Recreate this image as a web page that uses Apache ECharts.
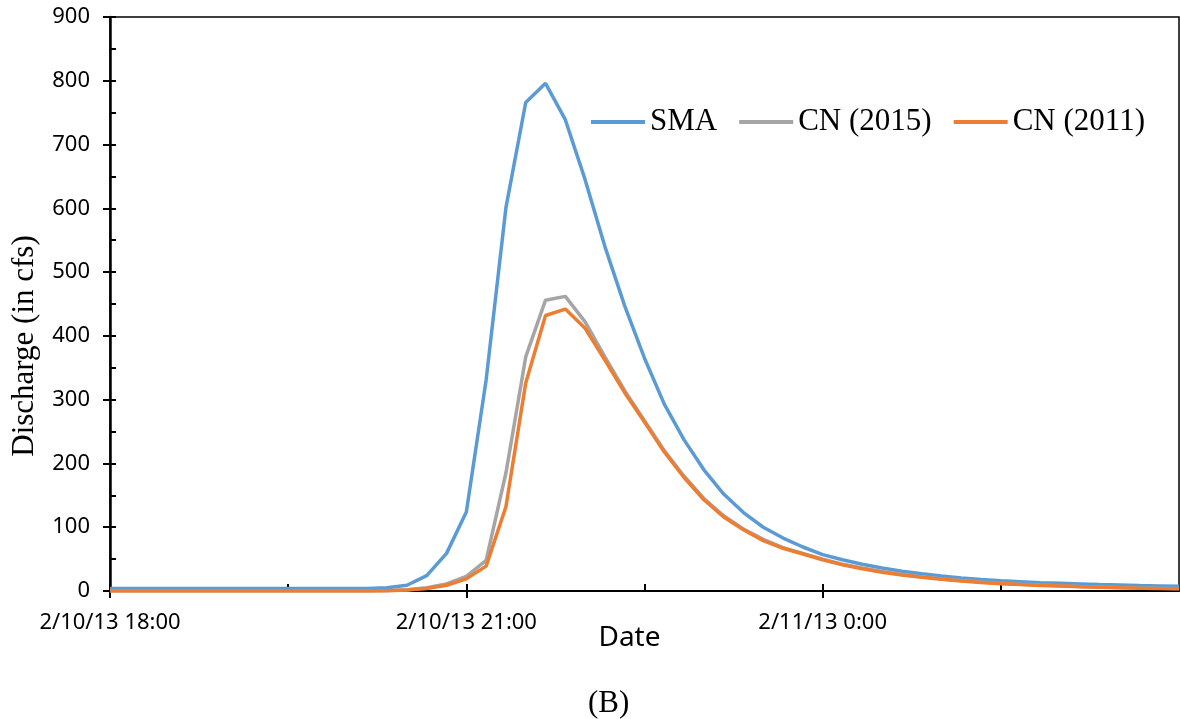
<!DOCTYPE html>
<html>
<head>
<meta charset="utf-8">
<title>Discharge hydrograph (B)</title>
<script src="https://cdn.jsdelivr.net/npm/echarts@6/dist/echarts.min.js"></script>
<style>
  html, body { margin: 0; padding: 0; background: #fff; }
  #chart { width: 1180px; height: 719px; }
</style>
</head>
<body>
<div id="chart"></div>
<script>
// Time steps: 10-minute intervals from 2/10/13 18:00 to 2/11/13 3:00
const times = [
  '2/10/13 18:00','2/10/13 18:10','2/10/13 18:20','2/10/13 18:30','2/10/13 18:40','2/10/13 18:50',
  '2/10/13 19:00','2/10/13 19:10','2/10/13 19:20','2/10/13 19:30','2/10/13 19:40','2/10/13 19:50',
  '2/10/13 20:00','2/10/13 20:10','2/10/13 20:20','2/10/13 20:30','2/10/13 20:40','2/10/13 20:50',
  '2/10/13 21:00','2/10/13 21:10','2/10/13 21:20','2/10/13 21:30','2/10/13 21:40','2/10/13 21:50',
  '2/10/13 22:00','2/10/13 22:10','2/10/13 22:20','2/10/13 22:30','2/10/13 22:40','2/10/13 22:50',
  '2/10/13 23:00','2/10/13 23:10','2/10/13 23:20','2/10/13 23:30','2/10/13 23:40','2/10/13 23:50',
  '2/11/13 0:00','2/11/13 0:10','2/11/13 0:20','2/11/13 0:30','2/11/13 0:40','2/11/13 0:50',
  '2/11/13 1:00','2/11/13 1:10','2/11/13 1:20','2/11/13 1:30','2/11/13 1:40','2/11/13 1:50',
  '2/11/13 2:00','2/11/13 2:10','2/11/13 2:20','2/11/13 2:30','2/11/13 2:40','2/11/13 2:50',
  '2/11/13 3:00'
];

// Simulated discharge (cfs)
const sma = [
  4, 4, 4, 4, 4, 4, 4, 4, 4, 4, 4, 4, 4, 4, 5, 9, 24, 59,
  124, 331, 601, 766, 796, 739, 645, 540, 447, 365, 293, 237, 190, 152, 123, 100, 83, 69,
  57, 49, 42, 36, 31, 27, 23.5, 20.5, 18, 16, 14.5, 13, 12, 11, 10, 9.3, 8.6, 8, 7.4
];
const cn2015 = [
  0, 0, 0, 0, 0, 0, 0, 0, 0, 0, 0, 0, 0, 0, 0.5, 2, 5, 11,
  23, 48, 185, 367, 456, 462, 422, 367, 314, 267, 220, 180, 145, 118, 97, 81, 68, 59,
  50, 42, 36, 30.5, 26, 22.5, 19, 16.5, 14, 12, 10.5, 9.3, 8.2, 7.2, 6.4, 5.6, 4.9, 4.3, 3.8
];
const cn2011 = [
  0, 0, 0, 0, 0, 0, 0, 0, 0, 0, 0, 0, 0, 0, 0.5, 1.5, 4, 9,
  19, 39, 132, 326, 432, 442, 412, 362, 311, 265, 218, 178, 143, 116, 96, 79, 67, 58,
  49, 41, 35, 29.5, 25, 21.5, 18.5, 15.5, 13.5, 11.5, 10, 8.8, 7.8, 6.8, 6, 5.2, 4.5, 3.9, 3.4
];

const seriesNames = ['SMA', 'CN (2015)', 'CN (2011)'];
const seriesColors = ['#5B9BD5', '#A5A5A5', '#ED7D31'];
const yTicks = { min: 0, max: 900, major: 100, minor: 50 };

const serif = '"Liberation Serif", "Times New Roman", serif';
const sans = '"Noto Sans", "Open Sans", sans-serif';
const last = times.length - 1;

const chart = echarts.init(document.getElementById('chart'), null, { renderer: 'canvas' });

const lineSeries = [sma, cn2015, cn2011].map((values, k) => ({
  name: seriesNames[k],
  type: 'line',
  data: values,
  xAxisIndex: 0,
  yAxisIndex: 0,
  symbol: 'none',
  smooth: false,
  lineStyle: { color: seriesColors[k], width: 3.5 },
  itemStyle: { color: seriesColors[k] },
  z: 3 + k,
  animation: false
}));

chart.setOption({
  animation: false,
  backgroundColor: '#fff',
  grid: {
    left: 110, top: 17, right: 1, bottom: 128,
    outerBoundsMode: 'none', containLabel: false,
    show: true, borderColor: '#000', borderWidth: 1.5, backgroundColor: 'transparent'
  },
  legend: {
    data: seriesNames,
    left: 591, top: 103, padding: 0,
    icon: 'rect', itemWidth: 54, itemHeight: 4, itemGap: 22,
    textStyle: { fontFamily: serif, fontSize: 31, color: '#000', lineHeight: 38 }
  },
  xAxis: [
    {
      type: 'category', data: times, boundaryGap: false, position: 'bottom',
      name: 'Date', nameLocation: 'middle', nameGap: 33, nameMoveOverlap: false,
      nameTextStyle: { fontFamily: sans, fontSize: 28, color: '#000', padding: [0, 30, 0, 0] },
      axisLine: { show: true, lineStyle: { color: '#000', width: 2 } },
      axisTick: { show: true, inside: false, length: 7, lineStyle: { color: '#000', width: 2 },
        interval: (i) => i % 18 === 0 && i !== last },
      axisLabel: { show: true, margin: 21, fontFamily: sans, fontSize: 22, color: '#000',
        interval: (i) => i % 18 === 0 && i !== last },
      splitLine: { show: false }
    },
    {
      type: 'category', data: times, boundaryGap: false, position: 'bottom',
      axisLine: { show: false },
      axisTick: { show: true, inside: true, length: 7, lineStyle: { color: '#000', width: 2 },
        interval: (i) => i % 9 === 0 && i !== last },
      axisLabel: { show: false },
      splitLine: { show: false }
    }
  ],
  yAxis: [
    {
      type: 'value', min: yTicks.min, max: yTicks.max, interval: yTicks.major, position: 'left',
      name: 'Discharge (in cfs)', nameLocation: 'middle', nameGap: 70, nameMoveOverlap: false,
      nameTextStyle: { fontFamily: serif, fontSize: 31, color: '#000', padding: [0, 84, 0, 0] },
      axisLine: { show: true, lineStyle: { color: '#000', width: 2.5 } },
      axisTick: { show: true, inside: false, length: 7, lineStyle: { color: '#000', width: 2 } },
      axisLabel: { margin: 20, fontFamily: sans, fontSize: 22, color: '#000' },
      splitLine: { show: false }
    },
    {
      type: 'value', min: yTicks.min, max: yTicks.max, interval: yTicks.minor, position: 'left',
      axisLine: { show: false },
      axisTick: { show: true, inside: true, length: 6, lineStyle: { color: '#000', width: 2 } },
      axisLabel: { show: false },
      splitLine: { show: false }
    }
  ],
  graphic: [
    {
      type: 'text', left: 588, top: 688,
      style: { text: '(B)', fontFamily: serif, fontSize: 31, fill: '#000' }
    }
  ],
  series: lineSeries
});
</script>
</body>
</html>
